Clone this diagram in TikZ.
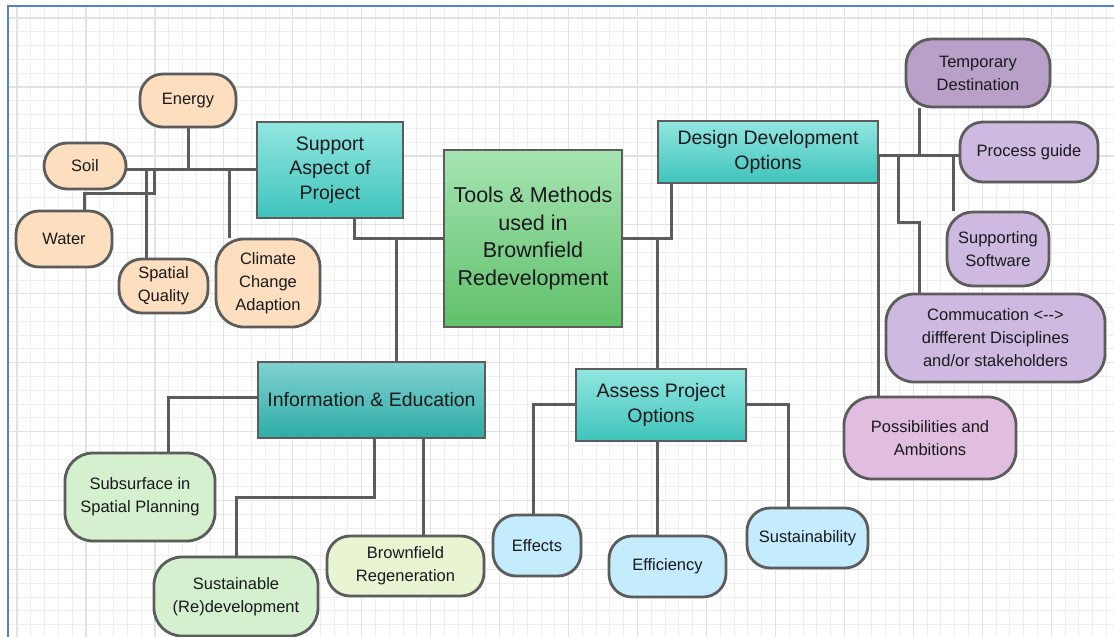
\documentclass[tikz,border=0pt]{standalone}
\usepackage{fontspec}
\setmainfont{Liberation Sans}
\usepackage{tikz}

\definecolor{edgegray}{RGB}{92,92,92}
\definecolor{txt}{RGB}{25,25,30}
\definecolor{frameblue}{RGB}{84,130,198}
\definecolor{gridminor}{RGB}{238,238,238}
\definecolor{gridmajor}{RGB}{226,226,226}
\definecolor{peach}{RGB}{253,223,191}
\definecolor{tealtop}{RGB}{146,230,224}
\definecolor{tealbot}{RGB}{62,196,188}
\definecolor{infotop}{RGB}{128,210,208}
\definecolor{infobot}{RGB}{46,172,166}
\definecolor{greentop}{RGB}{166,228,178}
\definecolor{greenbot}{RGB}{96,192,106}
\definecolor{plumdark}{RGB}{184,160,201}
\definecolor{plum}{RGB}{206,186,224}
\definecolor{pinkplum}{RGB}{225,190,224}
\definecolor{mint}{RGB}{213,240,206}
\definecolor{lime}{RGB}{233,244,211}
\definecolor{sky}{RGB}{196,236,252}

\pgfdeclarelayer{background}
\pgfsetlayers{background,main}

\begin{document}
\begin{tikzpicture}[x=1pt, y=-1pt,
    leaf/.style={draw=edgegray, line width=2.8pt, rounded corners=23pt, align=center,
      inner sep=0pt, text=txt, font=\fontsize{16.5}{23}\selectfont},
    topic/.style={draw=edgegray, line width=2.8pt, align=center, inner sep=0pt, text=txt,
      top color=tealtop, bottom color=tealbot, font=\fontsize{19.5}{24.5}\selectfont},
    link/.style={draw=edgegray, line width=3pt}]
    \useasboundingbox (0,0) rectangle (1114,637);

    % Grid paper
    \begin{pgfonlayer}{background}
        \fill[white] (0,0) rectangle (1114,637);
        \begin{scope}
            \clip (8,6) rectangle (1114,637);
            \foreach \k in {-1,...,80}
                \draw[gridminor, line width=1pt] ({17+13.79*\k},0) -- ({17+13.79*\k},640);
            \foreach \k in {-1,...,46}
                \draw[gridminor, line width=1pt] (0,{18+13.79*\k}) -- (1114,{18+13.79*\k});
            \foreach \k in {0,...,16}
                \draw[gridmajor, line width=1.2pt] ({17+68.95*\k},0) -- ({17+68.95*\k},640);
            \foreach \k in {0,...,9}
                \draw[gridmajor, line width=1.2pt] (0,{18+68.95*\k}) -- (1114,{18+68.95*\k});
        \end{scope}
        \draw[frameblue, line width=2pt] (8,640) -- (8,6) -- (1116,6);
    \end{pgfonlayer}

    % Centre
    \node[topic, top color=greentop, bottom color=greenbot, minimum width=178, minimum height=177,
      font=\fontsize{21.5}{27.7}\selectfont] (tools) at (533,238.5)
      {Tools \& Methods\\used in\\Brownfield\\Redevelopment};

    % Support Aspect of Project
    \node[topic, minimum width=146, minimum height=96] (support) at (330,170) {Support\\Aspect of\\Project};
    \node[leaf, fill=peach, minimum width=96, minimum height=53] (energy) at (188,100.5) {Energy};
    \node[leaf, fill=peach, minimum width=82, minimum height=46] (soil) at (85,166) {Soil};
    \node[leaf, fill=peach, minimum width=96, minimum height=56] (water) at (64,239) {Water};
    \node[leaf, fill=peach, minimum width=89, minimum height=54] (spatial) at (163.5,286) {Spatial\\Quality};
    \node[leaf, fill=peach, minimum width=104, minimum height=88, rounded corners=28pt] (climate) at (268,283)
      {Climate\\Change\\Adaption};

    % Design Development Options
    \node[topic, minimum width=220, minimum height=62] (design) at (768,152) {Design Development\\Options};
    \node[leaf, fill=plumdark, minimum width=144, minimum height=68, rounded corners=26pt] (temporary) at (978,73)
      {Temporary\\Destination};
    \node[leaf, fill=plum, minimum width=138, minimum height=60] (process) at (1029,152) {Process guide};
    \node[leaf, fill=plum, minimum width=102, minimum height=74, rounded corners=26pt] (supporting) at (998,249)
      {Supporting\\Software};
    \node[leaf, fill=plum, minimum width=219, minimum height=88, rounded corners=28pt] (commu) at (995.5,338)
      {Commucation <-{}-> \\diffferent Disciplines\\and/or stakeholders};
    \node[leaf, fill=pinkplum, minimum width=172, minimum height=82, rounded corners=28pt] (possib) at (930,438)
      {Possibilities and\\Ambitions};

    % Assess Project Options
    \node[topic, minimum width=170, minimum height=72] (assess) at (661,405) {Assess Project\\Options};
    \node[leaf, fill=sky, minimum width=88, minimum height=61] (effects) at (537,545.5) {Effects};
    \node[leaf, fill=sky, minimum width=117, minimum height=61] (efficiency) at (667.5,566.5) {Efficiency};
    \node[leaf, fill=sky, minimum width=121, minimum height=60] (sustain) at (807.5,538) {Sustainability};

    % Information & Education
    \node[topic, top color=infotop, bottom color=infobot, minimum width=227, minimum height=76] (info)
      at (371.5,400) {Information \& Education};
    \node[leaf, fill=mint, minimum width=150, minimum height=88, rounded corners=28pt] (subsurf) at (140,497)
      {Subsurface in\\Spatial Planning};
    \node[leaf, fill=mint, minimum width=164, minimum height=79, rounded corners=28pt] (sustainable) at (236,596.5)
      {Sustainable\\(Re)development};
    \node[leaf, fill=lime, minimum width=157, minimum height=60] (brownfield) at (405.5,566)
      {Brownfield\\Regeneration};

    % Connectors
    \begin{pgfonlayer}{background}
        % support branch
        \coordinate (s1) at (146.7,169.5);
        \coordinate (s2) at (154,169.5);
        \coordinate (s3) at (84,193);
        \coordinate (s4) at (229,169.5);
        \draw[link] (support.west |- s1) -- (soil.east |- s1);
        \draw[link] (energy.south) -- (energy.south |- s1);
        \draw[link] (s1) -- (s1 |- spatial.north);
        \draw[link] (s2) |- (s3) -- (s3 |- water.north);
        \draw[link] (s4) -- (s4 |- climate.north);

        % centre links
        \coordinate (c1) at (354,238);
        \coordinate (c2) at (396,238);
        \coordinate (c3) at (671,238);
        \coordinate (c4) at (657,238);
        \draw[link] (c1 |- support.south) |- (tools.west);
        \draw[link] (c2) -- (c2 |- info.north);
        \draw[link] (tools.east) -| (c3 |- design.south);
        \draw[link] (c4) -- (c4 |- assess.north);

        % design branch
        \coordinate (d0) at (878,155);
        \coordinate (d1) at (919,155);
        \coordinate (d2) at (953,155);
        \coordinate (d3) at (898,155);
        \coordinate (d4) at (919,222);
        \draw[link] (d0) -- (d0 -| process.west);
        \draw[link] (d1) -- (d1 |- temporary.south);
        \draw[link] (d2) -- (d2 |- supporting.north);
        \draw[link] (d3) |- (d4) -- (d4 |- commu.north);
        \draw[link] (d0) -- (d0 |- possib.north);

        % assess branch
        \coordinate (a1) at (533,404);
        \coordinate (a2) at (788,404);
        \draw[link] (assess.west |- a1) -| (a1 |- effects.north);
        \draw[link] (assess.east |- a2) -| (a2 |- sustain.north);
        \draw[link] (c4 |- assess.south) -- (c4 |- efficiency.north);

        % information branch
        \coordinate (i1) at (168,397);
        \coordinate (i2) at (374,497);
        \coordinate (i3) at (236,497);
        \coordinate (i4) at (423,497);
        \draw[link] (info.west |- i1) -| (i1 |- subsurf.north);
        \draw[link] (i2 |- info.south) -- (i2) -- (i3) -- (sustainable.north);
        \draw[link] (i4 |- info.south) -- (i4 |- brownfield.north);
    \end{pgfonlayer}
\end{tikzpicture}
\end{document}
